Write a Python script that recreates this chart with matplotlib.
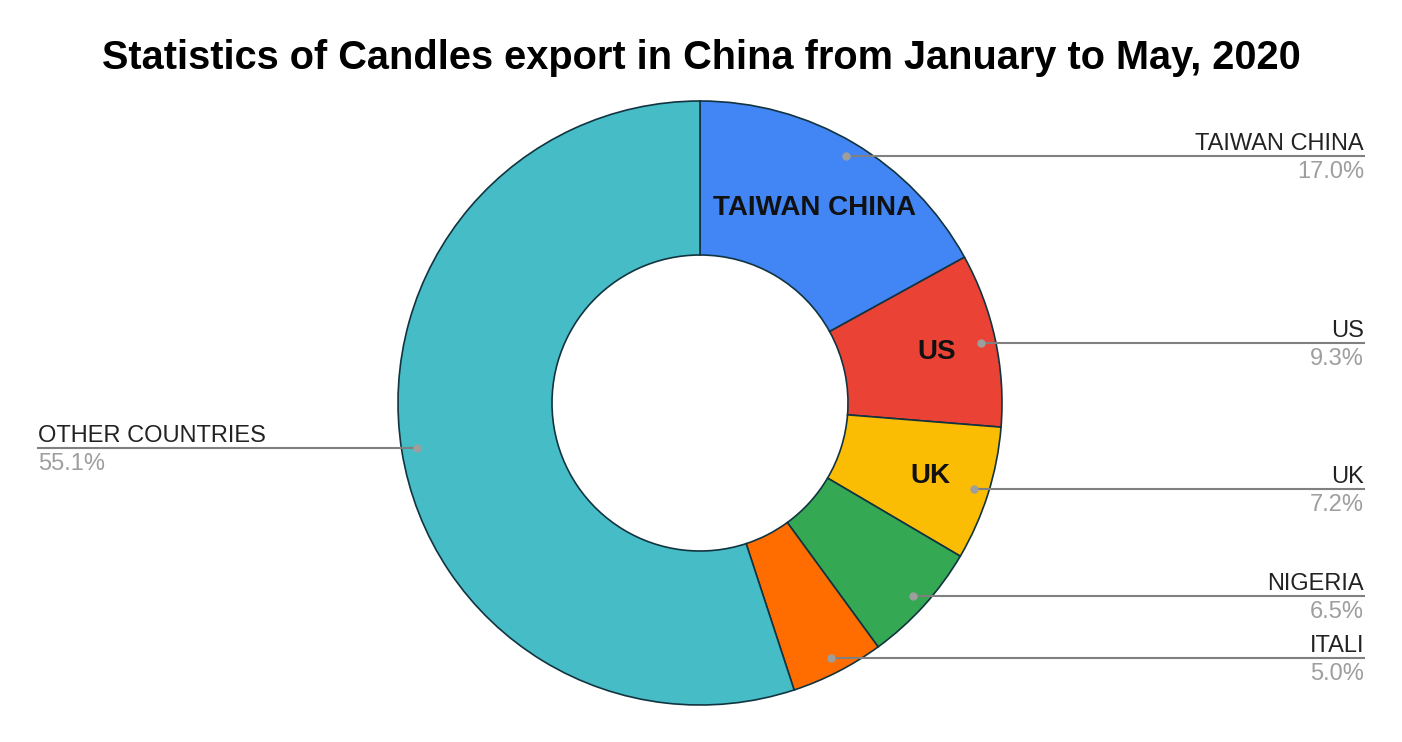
import numpy as np
import matplotlib.pyplot as plt

# data
countries = ["TAIWAN CHINA", "US", "UK", "NIGERIA", "ITALI", "OTHER COUNTRIES"]
shares = [17.0, 9.3, 7.2, 6.5, 5.0, 55.1]
colors = ["#4285F4", "#EA4335", "#FBBC04", "#34A853", "#FF6D01", "#46BDC6"]
inside = ["TAIWAN CHINA", "US", "UK"]

W, H = 1402, 742
fig = plt.figure(figsize=(W / 100, H / 100), dpi=100)
ax = fig.add_axes([0, 0, 1, 1])

cx, cy = 700, H - 403
R, r_in = 302, 148

wedges, _ = ax.pie(shares, colors=colors, startangle=90, counterclock=False,
                   center=(cx, cy), radius=R, frame=True,
                   wedgeprops=dict(width=R - r_in, edgecolor="#123440", linewidth=1.2))
ax.set_xlim(0, W)
ax.set_ylim(0, H)
ax.set_aspect("equal")
ax.axis("off")

font = "Liberation Sans"
for w, name, val in zip(wedges, countries, shares):
    mid = np.deg2rad((w.theta1 + w.theta2) / 2)
    # leader dot and line
    dx, dy = cx + 287 * np.cos(mid), cy + 287 * np.sin(mid)
    right = np.cos(mid) > 0
    x_end = 1364 if right else 38
    ax.plot([dx, x_end], [dy, dy], color="#808080", lw=1.5, zorder=5)
    ax.plot(dx, dy, "o", color="#9e9e9e", ms=5, zorder=6)
    ha = "right" if right else "left"
    ax.text(x_end, dy + 6, name, ha=ha, va="baseline", fontsize=17,
            color="#222222", family=font)
    ax.text(x_end, dy - 5, f"{val:.1f}%", ha=ha, va="top", fontsize=17,
            color="#9e9e9e", family=font)
    if name in inside:
        rr = 226 if name == "TAIWAN CHINA" else 242
        ax.text(cx + rr * np.cos(mid), cy + rr * np.sin(mid), name,
                ha="center", va="center", fontsize=20, fontweight="bold",
                color="#111111", family=font, zorder=7)

ax.text(W / 2, H - 58, "Statistics of Candles export in China from January to May, 2020",
        ha="center", va="center", fontsize=28.6, fontweight="bold",
        color="#000000", family=font)

fig.savefig("out.png", dpi=100)
